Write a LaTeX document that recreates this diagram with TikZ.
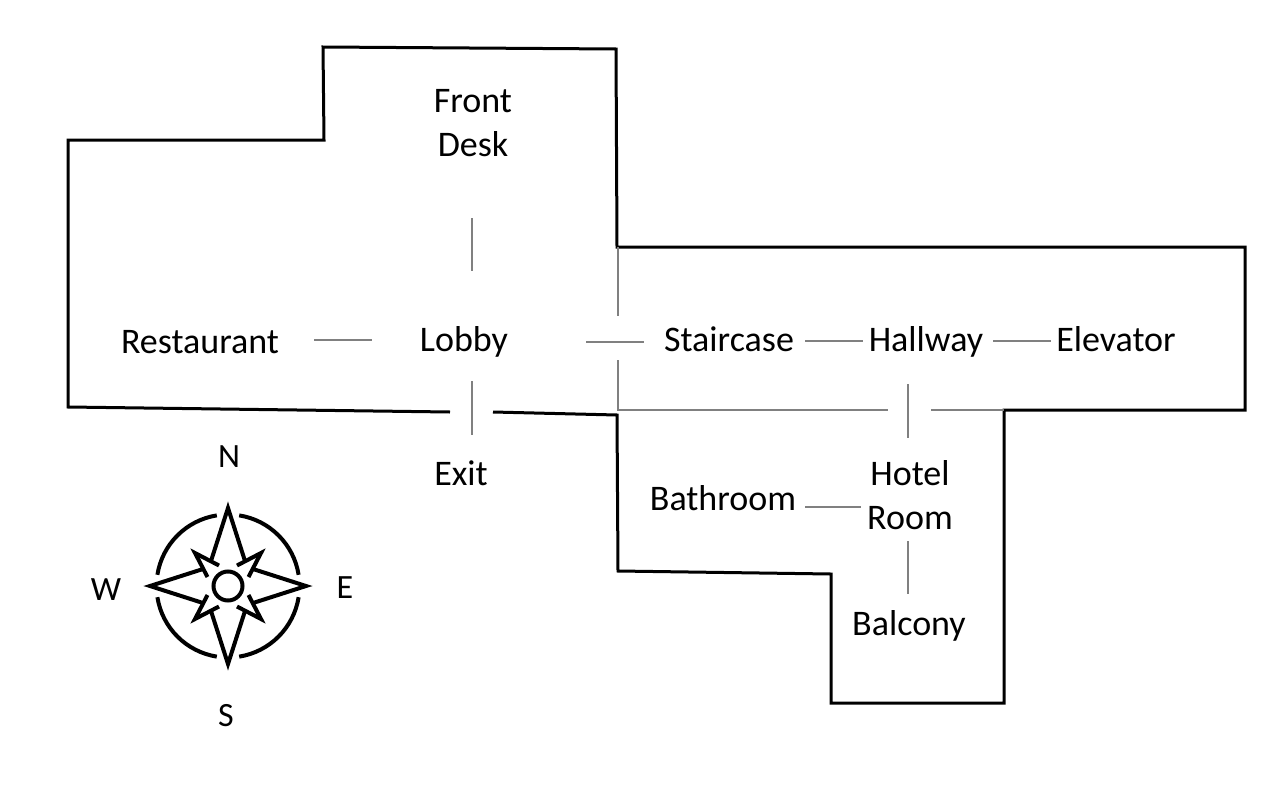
\documentclass[tikz,border=0pt]{standalone}
\usepackage{fontspec}
\setmainfont{Carlito}
\tikzset{
  x=1pt,y=-1pt,
  wall/.style={draw=black,line width=3pt,line join=miter},
  thinwall/.style={draw=black!50,line width=1.3pt},
  link/.style={draw=black!50,line width=1.3pt},
  place/.style={inner sep=0pt,outer sep=0pt,text height=30pt,text depth=8pt,font=\fontsize{36}{44}\selectfont},
  twoline/.style={inner sep=0pt,outer sep=0pt,align=center,minimum height=100pt,font=\fontsize{36}{44}\selectfont},
  compasslabel/.style={inner sep=0pt,font=\fontsize{34}{36}\selectfont},
  compassline/.style={draw=black,line width=4pt,line cap=butt,line join=miter,miter limit=10},
}
\begin{document}
\begin{tikzpicture}
\useasboundingbox (0,0) rectangle (1288,790);
% walls
\draw[wall] (450,412) -- (68,407) -- (68,140) -- (324,140) -- (323,47) -- (616,49) -- (617,247) -- (1245,247) -- (1245,410) -- (1004,410) -- (1004,703) -- (831,703) -- (831,574) -- (618,571) -- (617,415) -- (493,412);
\draw[thinwall] (618,247) -- (618,316);
\draw[thinwall] (618,360) -- (618,410) -- (888,410);
\draw[thinwall] (931,410) -- (1004,410);
% rooms
\node[twoline,minimum width=80pt] (front) at (473,123) {Front\\Desk};
\node[place,minimum width=160pt] (rest) at (200,342) {Restaurant};
\node[place,minimum width=88pt] (lobby) at (464,340) {Lobby};
\node[place,minimum width=130pt] (stair) at (729,340) {Staircase};
\node[place,minimum width=114pt] (hall) at (926,340) {Hallway};
\node[place,minimum width=120pt] (elev) at (1116,340) {Elevator};
\node[place,minimum width=52pt] (exit) at (461,474) {Exit};
\node[place,minimum width=146pt] (bath) at (723,499) {Bathroom};
\node[twoline,minimum width=86pt] (room) at (910,495) {Hotel\\Room};
\node[place,minimum width=114pt] (balc) at (909,624) {Balcony};
% connectors
\draw[link] ([xshift=-1pt,yshift=-45pt]front.south) -- ([xshift=8pt,yshift=50pt]lobby.north);
\draw[link] ([xshift=34pt,yshift=2pt]rest.east) -- ([xshift=-48pt]lobby.west);
\draw[link] ([xshift=78pt,yshift=-2pt]lobby.east) -- ([xshift=-20pt,yshift=-2pt]stair.west);
\draw[link] ([xshift=11pt,yshift=-1pt]stair.east) -- ([xshift=-6pt,yshift=-1pt]hall.west);
\draw[link] ([xshift=10pt,yshift=-1pt]hall.east) -- ([xshift=-5pt,yshift=-1pt]elev.west);
\draw[link] ([xshift=8pt,yshift=-22pt]lobby.south) -- ([xshift=11pt,yshift=20pt]exit.north);
\draw[link] ([xshift=-18pt,yshift=-25pt]hall.south) -- ([xshift=-2pt,yshift=7pt]room.north);
\draw[link] ([xshift=9pt,yshift=-8pt]bath.east) -- ([xshift=-6pt,yshift=-12pt]room.west);
\draw[link] ([xshift=-2pt,yshift=4pt]room.south) -- ([xshift=-1pt,yshift=11pt]balc.north);
% compass
\begin{scope}[shift={(228,586)}]
  \node[compasslabel] (cn) at (1,-129) {N};
  \node[compasslabel] (cs) at (-2,130) {S};
  \node[compasslabel] (cw) at (-122,4) {W};
  \node[compasslabel] (ce) at (117,2) {E};
  \draw[compassline] (0,0) circle[radius=14.5];
  \foreach \r in {0,90,180,270}{
    \begin{scope}[rotate=\r]
      \draw[compassline] (-17,-25) -- (0,-78) -- (17,-25);
      \draw[compassline] (-9,-20.5) -- (-33,-33) -- (-20.5,-9);
      \draw[compassline] (99:71.5) arc[start angle=99,end angle=171,radius=71.5];
    \end{scope}
  }
\end{scope}
\end{tikzpicture}
\end{document}
